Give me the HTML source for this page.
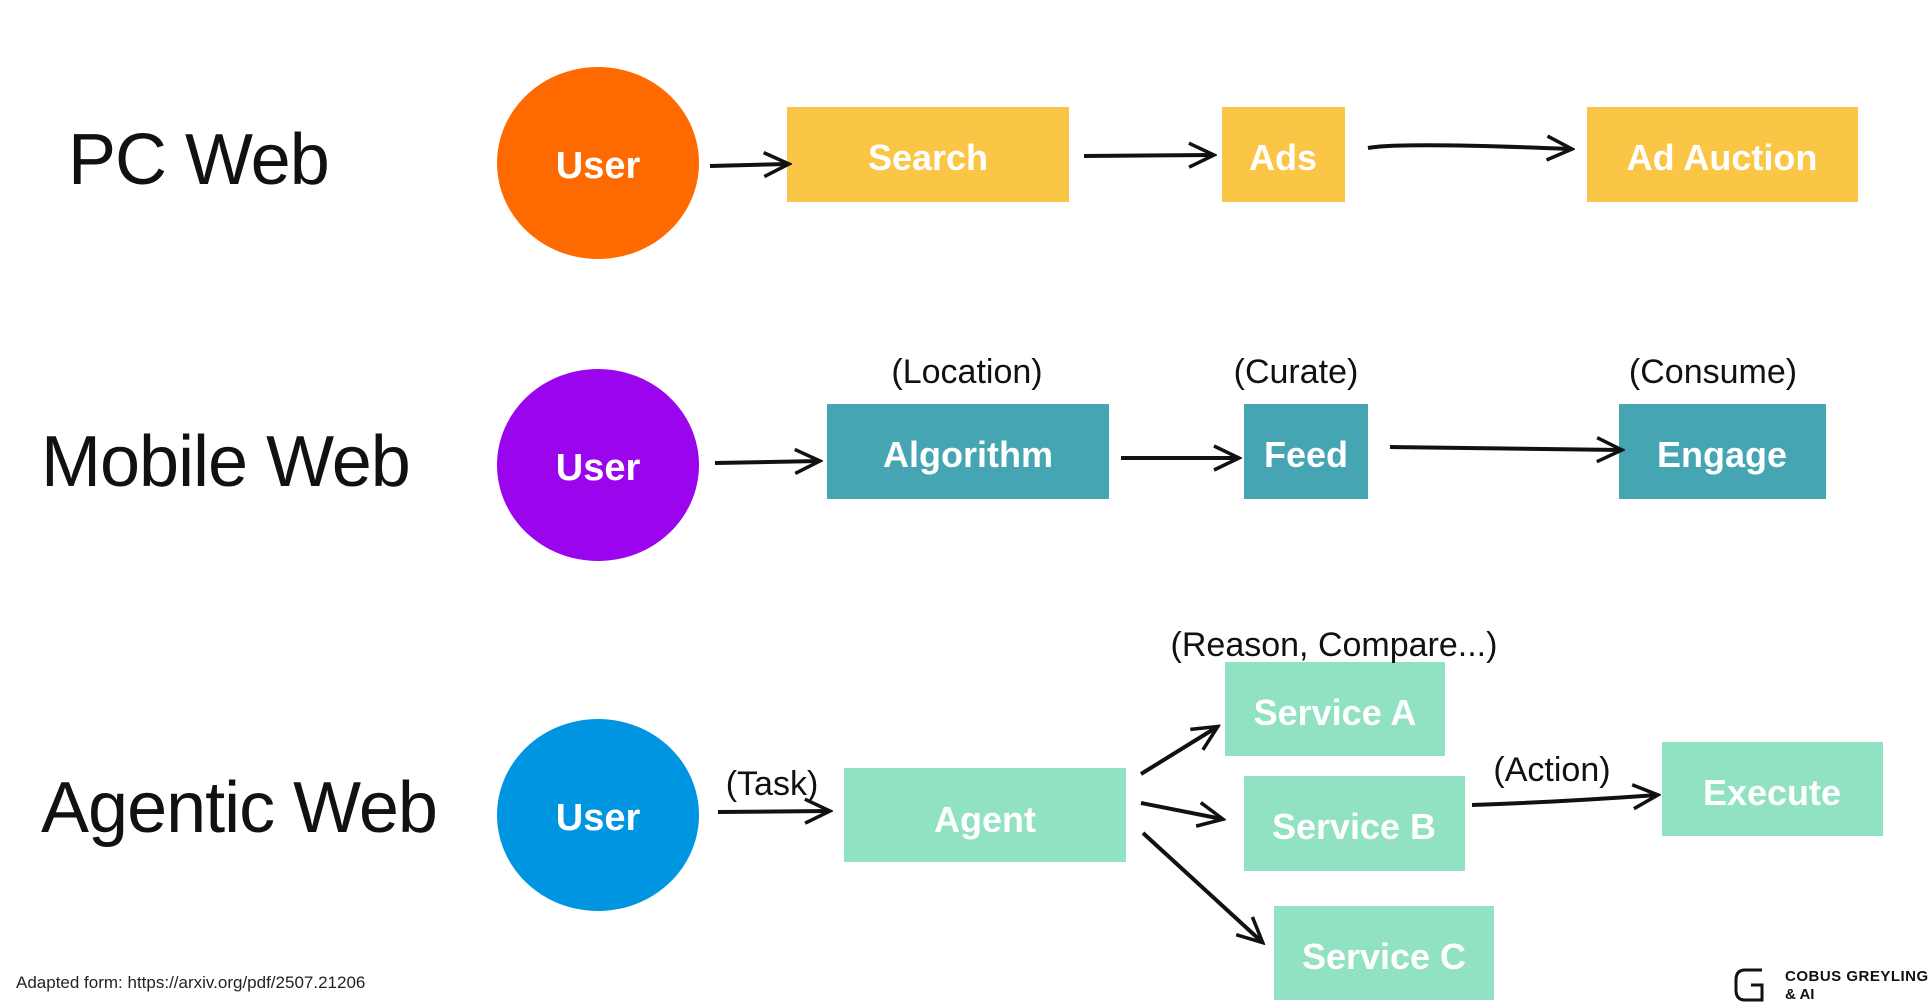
<!DOCTYPE html>
<html><head><meta charset="utf-8"><style>
html,body{margin:0;padding:0;background:#fff;}
body{width:1932px;height:1008px;overflow:hidden;position:relative;font-family:"Liberation Sans",sans-serif;}
svg{position:absolute;left:0;top:0;}
</style></head><body>
<svg width="1932" height="1008" viewBox="0 0 1932 1008">
<defs>
<marker id="b" markerWidth="30" markerHeight="30" refX="26" refY="15" orient="auto" markerUnits="userSpaceOnUse">
<path d="M2,3 L27,15 L2,27" fill="none" stroke="#111" stroke-width="3.5"/>
</marker>
</defs>
<g font-family="Liberation Sans, sans-serif">
<text x="68" y="184" font-size="72" fill="#111" letter-spacing="-1">PC Web</text>
<text x="41" y="486" font-size="72" fill="#111" letter-spacing="-1">Mobile Web</text>
<text x="41" y="832" font-size="72" fill="#111" letter-spacing="-1">Agentic Web</text>

<ellipse cx="598" cy="163" rx="101" ry="96" fill="#FF6A00"/>
<ellipse cx="598" cy="465" rx="101" ry="96" fill="#9B05EE"/>
<ellipse cx="598" cy="815" rx="101" ry="96" fill="#0095E0"/>
<g fill="#fff" font-size="38" font-weight="bold" text-anchor="middle">
<text x="598" y="178">User</text><text x="598" y="480">User</text><text x="598" y="830">User</text>
</g>

<g fill="#FBC546">
<rect x="787" y="107" width="282" height="95"/><rect x="1222" y="107" width="123" height="95"/><rect x="1587" y="107" width="271" height="95"/>
</g>
<g fill="#45A5B3">
<rect x="827" y="404" width="282" height="95"/><rect x="1244" y="404" width="124" height="95"/><rect x="1619" y="404" width="207" height="95"/>
</g>
<g fill="#91E2C2">
<rect x="844" y="768" width="282" height="94"/><rect x="1225" y="662" width="220" height="94"/><rect x="1244" y="776" width="221" height="95"/><rect x="1274" y="906" width="220" height="94"/><rect x="1662" y="742" width="221" height="94"/>
</g>
<g fill="#fff" font-size="36" font-weight="bold" text-anchor="middle">
<text x="928" y="170">Search</text><text x="1283" y="170">Ads</text><text x="1722" y="170">Ad Auction</text>
<text x="968" y="467">Algorithm</text><text x="1306" y="467">Feed</text><text x="1722" y="467">Engage</text>
<text x="985" y="832">Agent</text><text x="1335" y="725">Service A</text><text x="1354" y="839">Service B</text><text x="1384" y="969">Service C</text><text x="1772" y="805">Execute</text>
</g>
<g fill="#111" font-size="34" text-anchor="middle">
<text x="967" y="383">(Location)</text><text x="1296" y="383">(Curate)</text><text x="1713" y="383">(Consume)</text>
<text x="772" y="795">(Task)</text><text x="1334" y="656">(Reason, Compare...)</text><text x="1552" y="781">(Action)</text>
</g>
<g stroke="#111" stroke-width="4" fill="none" marker-end="url(#b)">
<path d="M710,166 L788,164"/><path d="M1084,156 L1213,155"/><path d="M1368,148 Q1400,142 1571,149"/>
<path d="M715,463 L819,461"/><path d="M1121,458 L1238,458"/><path d="M1390,447 L1621,450"/>
<path d="M718,812 L829,811"/><path d="M1141,774 L1217,727"/><path d="M1141,803 L1222,819"/><path d="M1143,833 L1262,942"/><path d="M1472,805 Q1560,802 1657,795"/>
</g>
<text x="16" y="988" font-size="17" fill="#222">Adapted form: https://arxiv.org/pdf/2507.21206</text>
<path d="M1762,970 L1745,970 Q1736,970 1736,980 L1736,990 Q1736,1000 1745,1000 L1762,1000 L1762,985 L1751,985" fill="none" stroke="#111" stroke-width="3"/>
<text x="1785" y="981" font-size="15" font-weight="bold" fill="#111" letter-spacing="0.5">COBUS GREYLING</text>
<text x="1785" y="999" font-size="15" font-weight="bold" fill="#111">&amp; AI</text>
</g>
</svg>
</body></html>
